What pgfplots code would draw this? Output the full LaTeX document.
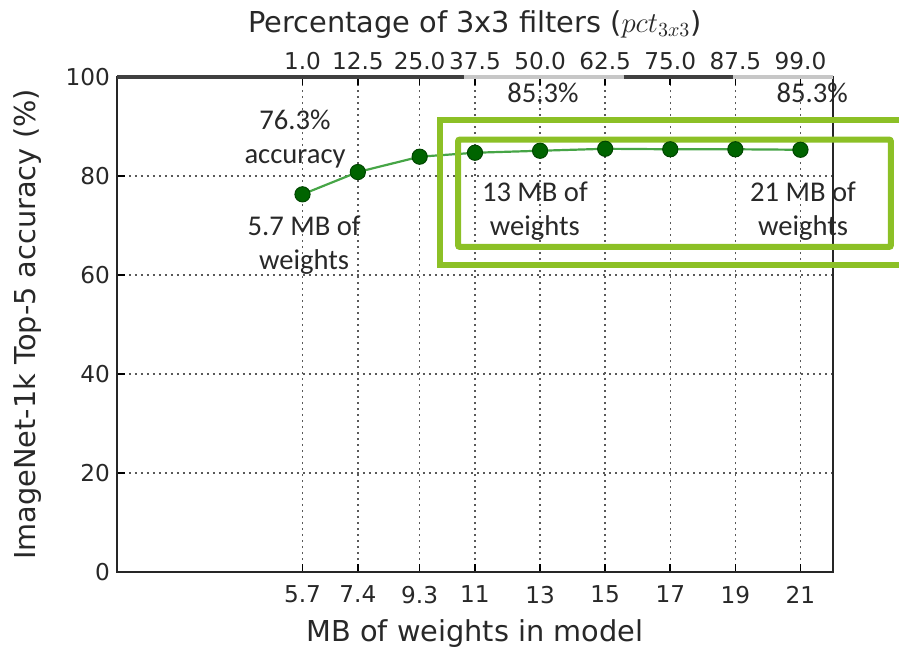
\documentclass[border=0pt]{standalone}
\usepackage{pgfplots}
\pgfplotsset{compat=1.18}
\usepackage{fontspec}
\setmainfont{DejaVu Sans}
\newfontfamily\carlito{Carlito}
\definecolor{boxgreen}{RGB}{140,192,38}
\definecolor{linegreen}{RGB}{70,165,70}
\definecolor{markgreen}{RGB}{0,100,0}
\definecolor{txt}{RGB}{40,40,40}
\begin{document}
\begin{tikzpicture}
\pgfplotsset{
  common/.style={
    width=358pt, height=247.5pt, scale only axis,
    xmin=0, xmax=22, ymin=0, ymax=100,
    xtick={5.7,7.4,9.3,11,13,15,17,19,21},
    tick align=inside,
    major tick length=4pt,
    tick style={line width=0.8pt, black},
    /pgf/number format/assume math mode=true,
    ticklabel style={font=\fontsize{11.6}{14}\selectfont, text=txt},
    label style={font=\fontsize{14.4}{16}\selectfont, text=txt},
    clip=false,
  }
}
\begin{axis}[common,
  axis line style={line width=1.2pt, black!85},
  xticklabels={5.7,7.4,9.3,11,13,15,17,19,21},
  xtick pos=left, ytick pos=left,
  ytick={0,20,40,60,80,100},
  grid=major,
  grid style={dash pattern=on 1pt off 2pt, line width=0.75pt, black!65},
  xticklabel style={yshift=-3.5pt},
  xlabel style={yshift=-1pt},
  ylabel style={yshift=5pt},
  xlabel={MB of weights in model},
  ylabel={ImageNet-1k Top-5 accuracy (\%)},
]
\coordinate (bbll) at (rel axis cs:-0.1634,-0.1495);
\coordinate (bbur) at (rel axis cs:1.0922,1.1556);
\addplot[linegreen, line width=1.1pt, mark=*, mark size=3.8pt,
  mark options={fill=markgreen, draw=markgreen!70!black, line width=0.5pt}]
  coordinates {(5.7,76.3)(7.4,80.8)(9.3,83.9)(11,84.7)(13,85.1)(15,85.5)(17,85.4)(19,85.4)(21,85.3)};
\begin{scope}[font=\carlito\fontsize{14.3}{17}\selectfont, every node/.style={align=center, text=txt}]
\node at (axis cs:5.47,87.4) {76.3\%\\accuracy};
\node at (axis cs:5.75,65.96) {5.7 MB of\\weights};
\node at (axis cs:12.84,73.0) {13 MB of\\weights};
\node at (axis cs:21.08,73.0) {21 MB of\\weights};
\node at (axis cs:13.09,96.8) {85.3\%};
\node at (axis cs:21.36,96.8) {85.3\%};
\end{scope}
\draw[boxgreen, line width=3pt] (axis cs:9.925,62.12) rectangle (axis cs:24.2,91.31);
\draw[boxgreen, line width=3pt, rounded corners=1pt] (axis cs:10.478,65.66) rectangle (axis cs:23.78,87.37);
\end{axis}
\begin{axis}[common,
  axis x line*=top, hide y axis,
  axis line style={line width=1.2pt, black!85},
  xticklabels={1.0,12.5,25.0,37.5,50.0,62.5,75.0,87.5,99.0},
  xlabel={Percentage of 3x3 filters ($pct_{3x3}$)},
]
\draw[line width=2pt, black!75] (axis cs:0,100) -- (axis cs:10.65,100);
\draw[line width=2pt, black!22] (axis cs:10.65,100) -- (axis cs:15.57,100);
\draw[line width=2pt, black!75] (axis cs:15.57,100) -- (axis cs:18.92,100);
\draw[line width=2pt, black!22] (axis cs:18.92,100) -- (axis cs:22,100);
\end{axis}
\pgfresetboundingbox
\useasboundingbox (bbll) rectangle (bbur);
\end{tikzpicture}
\end{document}
